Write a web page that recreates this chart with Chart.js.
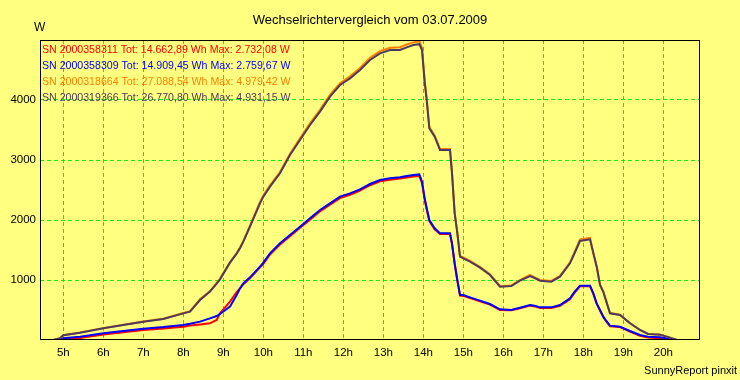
<!DOCTYPE html>
<html><head><meta charset="utf-8">
<script src="https://cdn.jsdelivr.net/npm/chart.js@4.4.1/dist/chart.umd.min.js"></script>
<style>html,body{margin:0;padding:0;background:#FFFF80;} canvas{display:block;}</style>
</head><body>
<canvas id="c" width="740" height="380"></canvas>
<script>
const chartTitle = 'Wechselrichtervergleich vom 03.07.2009';
const unitLabel = 'W';
const footerText = 'SunnyReport pinxit';
const seriesNames = [
  'SN 2000358311 Tot: 14.662,89 Wh Max: 2.732,08 W',
  'SN 2000358309 Tot: 14.909,45 Wh Max: 2.759,67 W',
  'SN 2000318664 Tot: 27.088,54 Wh Max: 4.979,42 W',
  'SN 2000319366 Tot: 26.770,80 Wh Max: 4.931,15 W'
];
const seriesColors = ['#FF0000', '#0000FF', '#FF8000', '#4E3B5C'];
const hourTicks = [5,6,7,8,9,10,11,12,13,14,15,16,17,18,19,20];
const powerTicks = [1000,2000,3000,4000];
const times = ['04:25','04:45','04:55','05:00','05:25','06:00','06:30','07:00','07:30','08:00',
 '08:10','08:25','08:40','08:50','08:55','09:10','09:20','09:25','09:30','09:40',
 '09:55','10:00','10:10','10:25','10:40','10:55','11:10','11:25','11:40','11:55',
 '12:10','12:25','12:40','12:55','13:10','13:25','13:35','13:45','13:54','13:58',
 '14:02','14:05','14:09','14:17','14:25','14:40','14:43','14:47','14:51','14:55',
 '15:00','15:10','15:25','15:40','15:55','16:12','16:25','16:40','16:47','16:55',
 '17:12','17:25','17:40','17:47','17:55','18:10','18:15','18:20','18:25','18:30',
 '18:33','18:40','18:55','19:10','19:25','19:37','19:55','20:10','20:20','20:55'];
const sn311 = [0,0,0,10,35,90,130,167,190,222,
 240,260,278,333,444,639,800,861,930,1028,
 1210,1270,1425,1590,1730,1870,2005,2145,2255,2365,
 2420,2490,2580,2645,2670,2690,2710,2725,2732,2620,
 2340,2180,1980,1845,1765,1765,1600,1270,995,740,
 735,700,645,590,500,495,530,575,560,535,
 535,570,680,790,895,900,770,605,490,380,
 330,230,215,140,70,40,30,10,0,0];
const sn309 = [0,0,0,28,56,111,150,189,215,250,
 270,306,361,400,433,556,750,860,944,1044,
 1222,1290,1444,1611,1750,1889,2028,2167,2278,2389,
 2444,2511,2600,2667,2694,2711,2733,2750,2760,2639,
 2361,2200,2000,1861,1778,1778,1611,1278,1000,750,
 750,711,656,600,511,500,539,583,572,544,
 544,583,694,806,906,906,778,611,500,389,
 340,239,222,150,83,56,44,22,0,0];
const sn664 = [0,0,30,80,125,198,253,310,355,450,
 480,680,815,950,1020,1300,1450,1545,1650,1905,
 2300,2410,2578,2800,3105,3360,3610,3835,4085,4280,
 4395,4535,4705,4815,4870,4880,4925,4960,4979,4870,
 4330,4030,3550,3410,3185,3185,2800,2130,1795,1400,
 1375,1320,1220,1095,900,910,1000,1085,1045,1000,
 985,1070,1295,1470,1675,1700,1460,1235,925,810,
 700,450,420,282,170,102,90,40,0,0];
const sn366 = [0,0,30,78,120,195,250,306,350,444,
 472,667,806,940,1011,1289,1440,1528,1640,1889,
 2278,2389,2556,2778,3083,3333,3583,3806,4056,4250,
 4361,4500,4667,4778,4833,4833,4878,4917,4931,4833,
 4300,4000,3528,3389,3167,3167,2778,2111,1778,1389,
 1361,1306,1206,1083,889,900,989,1067,1033,989,
 972,1056,1278,1450,1650,1678,1444,1222,917,800,
 694,444,417,278,167,100,89,39,0,0];

const toHours = t => { const p = t.split(':'); return +p[0] + (+p[1]) / 60; };
const xs = times.map(toHours);
const pts = arr => arr.map((v, i) => ({ x: xs[i], y: v }));
const values = [sn311, sn309, sn664, sn366];
const drawOrder = [3, 2, 1, 0];
const FONT = '"Liberation Sans", Arial, sans-serif';
const GRID = '#10F010';

const decor = {
  id: 'decor',
  afterDraw(chart) {
    const ctx = chart.ctx, a = chart.chartArea;
    ctx.save();
    ctx.strokeStyle = '#000'; ctx.lineWidth = 1;
    ctx.strokeRect(a.left + 0.5, a.top + 0.5, a.right - a.left - 1, a.bottom - a.top - 1);
    ctx.fillStyle = '#000';
    ctx.textBaseline = 'alphabetic';
    ctx.font = '13px ' + FONT; ctx.textAlign = 'center';
    ctx.fillText(chartTitle, 370, 24);
    ctx.font = '12px ' + FONT; ctx.textAlign = 'left';
    ctx.fillText(unitLabel, 34, 31);
    ctx.font = '11px ' + FONT; ctx.textAlign = 'right';
    ctx.fillText(footerText, 737, 374);
    ctx.textAlign = 'left';
    ctx.font = '10.6px ' + FONT;
    seriesNames.forEach((n, i) => {
      ctx.fillStyle = seriesColors[i];
      ctx.fillText(n, a.left + 2, a.top + 13 + i * 16);
    });
    ctx.restore();
  }
};

new Chart(document.getElementById('c'), {
  type: 'line',
  data: {
    datasets: values.map((v, i) => ({
      label: seriesNames[i],
      data: pts(v),
      borderColor: seriesColors[i],
      borderWidth: 2,
      pointRadius: 0,
      tension: 0,
      fill: false,
      order: drawOrder[i]
    }))
  },
  options: {
    responsive: false,
    animation: false,
    devicePixelRatio: 1,
    layout: { padding: { left: 0, right: 40, top: 40, bottom: 0 } },
    plugins: { legend: { display: false }, title: { display: false }, tooltip: { enabled: false } },
    scales: {
      x: {
        type: 'linear',
        min: toHours('04:25'), max: toHours('20:55'),
        afterBuildTicks: s => { s.ticks = hourTicks.map(v => ({ value: v })); },
        afterFit: s => { s.height = 40; },
        ticks: { callback: v => v + 'h', color: '#000', font: { family: FONT, size: 11.5 }, padding: 6, maxRotation: 0, autoSkip: false },
        grid: { color: GRID, lineWidth: 1, drawTicks: false },
        border: { display: false, dash: [4, 3] }
      },
      y: {
        min: 0, max: 5000,
        afterBuildTicks: s => { s.ticks = powerTicks.map(v => ({ value: v })); },
        afterFit: s => { s.width = 40; },
        ticks: { callback: v => String(v), color: '#000', font: { family: FONT, size: 11.5 }, padding: 4 },
        grid: { color: GRID, lineWidth: 1, drawTicks: false },
        border: { display: false, dash: [4, 3] }
      }
    }
  },
  plugins: [decor]
});
</script>
</body></html>
